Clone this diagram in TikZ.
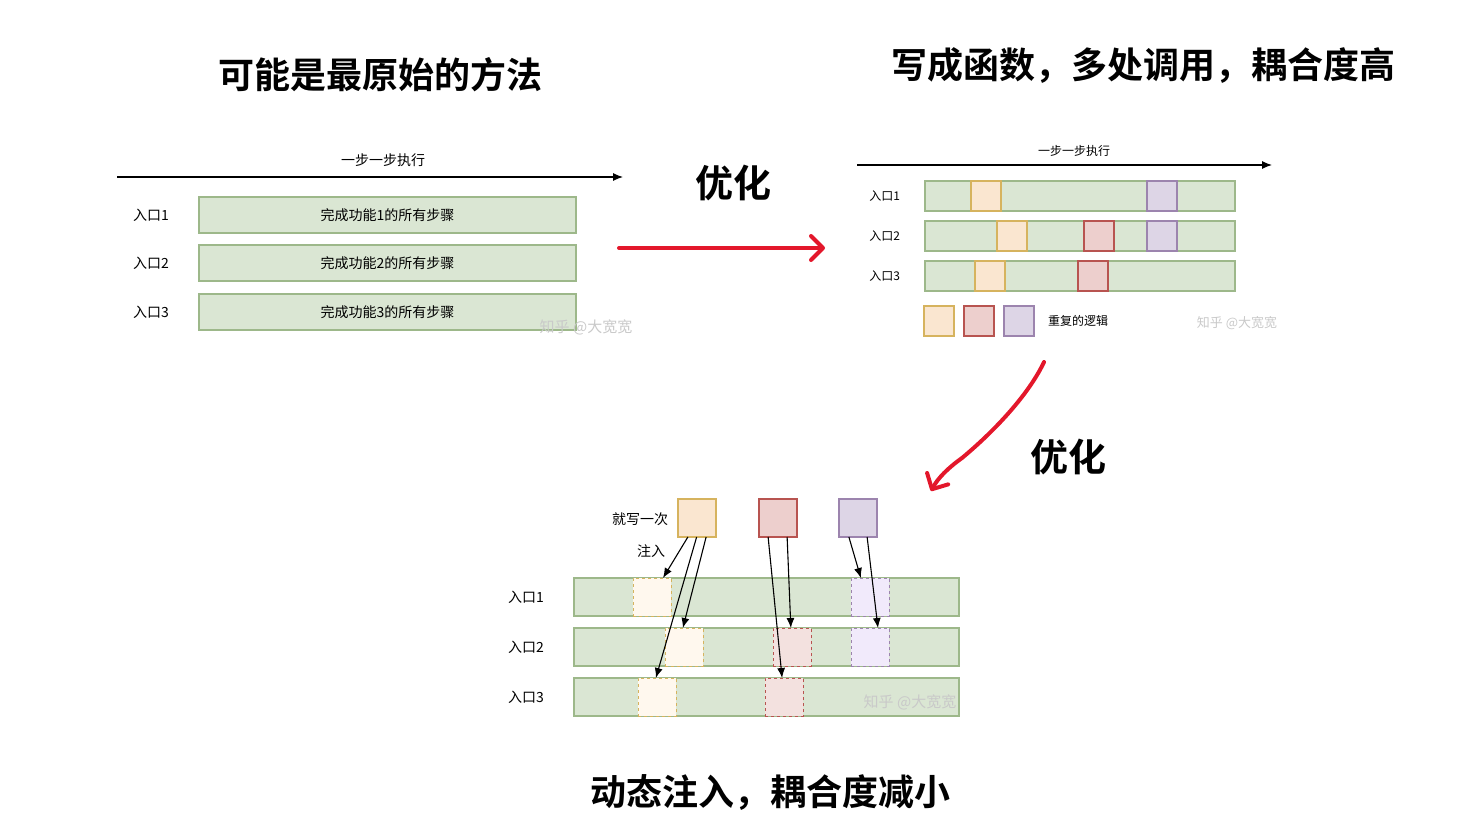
\documentclass[tikz,border=0pt]{standalone}
\usepackage{fontspec}
\setmainfont{Noto Sans CJK SC}[BoldFont={Noto Sans CJK SC Bold}]
\usetikzlibrary{arrows.meta, positioning, calc}
\definecolor{bardraw}{HTML}{9DB88A}
\definecolor{barfill}{HTML}{DAE6D3}
\definecolor{orgdraw}{HTML}{D6B35E}
\definecolor{orgfill}{HTML}{FAE6D0}
\definecolor{orgpale}{HTML}{FFF8EE}
\definecolor{reddraw}{HTML}{B85450}
\definecolor{redfill}{HTML}{EDCFCD}
\definecolor{redpale}{HTML}{F3E1DF}
\definecolor{purdraw}{HTML}{9C84AE}
\definecolor{purfill}{HTML}{DDD5E6}
\definecolor{purpale}{HTML}{F1EAFB}
\definecolor{redline}{HTML}{E3172B}
\definecolor{wmark}{HTML}{C9C9C9}
\newcommand\setsz[1]{\fontsize{#1}{#1}\selectfont}

\begin{document}
\begin{tikzpicture}[x=1pt,y=-1pt,
  every node/.style={inner sep=0pt,outer sep=0pt},
  bar/.style={draw=bardraw,fill=barfill,line width=1.3pt,anchor=north west},
  blk/.style={draw=#1draw,fill=#1fill,line width=1.3pt,anchor=north west,
    minimum width=30pt,minimum height=30pt},
  ghost/.style={draw=#1draw,fill=#1pale,dashed,line width=1pt,anchor=north west,
    minimum width=38pt,minimum height=38pt},
  entry/.style={font=\setsz{14}},
  title/.style={font=\bfseries\setsz{36}},
  hint/.style={font=\bfseries\setsz{38}},
  wmark/.style={text=wmark,font=\setsz{15}},
  flow/.style={-{Latex[length=10pt,width=8pt]},line width=1.1pt},
  tweak/.style={draw=redline,line width=4pt,line cap=round,
    -{Straight Barb[length=12pt,width=24pt,round]}}]
\useasboundingbox (0,0) rectangle (1469,829);

% original way
\node[title] (t1) at (380,75) {可能是最原始的方法};
\coordinate (s1a) at (117,177);
\coordinate (s1b) at (623,177);
\draw[flow] (s1a) -- (s1b);
\node[entry] (s1) at (383,160) {一步一步执行};
\foreach \i/\y in {1/197,2/245,3/294} {
  \node[bar,minimum width=377pt,minimum height=36pt,font=\setsz{14}] (f\i) at (199,\y) {完成功能\i 的所有步骤};
  \node[entry,left=30pt of f\i.west] (e\i) {入口\i};
}
\node[wmark] (w1) at (586,327) {知乎 @大宽宽};

\coordinate (r1a) at (619,248);
\coordinate (r1b) at (825,248);
\draw[tweak] (r1a) -- (r1b);
\node[hint] (o1) at (733,183) {优化};

% shared functions
\node[title] (t2) at (1143,66) {写成函数，多处调用，耦合度高};
\coordinate (s2a) at (857,165);
\coordinate (s2b) at (1272,165);
\draw[flow] (s2a) -- (s2b);
\node[font=\setsz{12}] (s2) at (1074,151) {一步一步执行};
\foreach \i/\y in {1/181,2/221,3/261} {
  \node[bar,minimum width=310pt,minimum height=30pt] (g\i) at (925,\y) {};
  \node[font=\setsz{12},left=25pt of g\i.west] (h\i) {入口\i};
}
\node[blk=org] (g1o) at (971,181) {};
\node[blk=pur] (g1p) at (1147,181) {};
\node[blk=org] (g2o) at (997,221) {};
\node[blk=red] (g2r) at (1084,221) {};
\node[blk=pur] (g2p) at (1147,221) {};
\node[blk=org] (g3o) at (975,261) {};
\node[blk=red] (g3r) at (1078,261) {};
\node[blk=org] (lo) at (924,306) {};
\node[blk=red] (lr) at (964,306) {};
\node[blk=pur] (lp) at (1004,306) {};
\node[font=\setsz{12},right=14pt of lp.east] (lt) {重复的逻辑};
\node[wmark,font=\setsz{13}] (w2) at (1237,323) {知乎 @大宽宽};

\coordinate (r2a) at (1044,362);
\coordinate (r2b) at (931,491);
\draw[tweak] (r2a) .. controls (1030,392) and (998,428) .. (962,458)
  .. controls (948,468) and (938,478) .. (r2b);
\node[hint] (o2) at (1068,457) {优化};

% injection
\node[title] (t3) at (770,792) {动态注入，耦合度减小};
\node[blk=org,minimum width=38pt,minimum height=38pt] (u1) at (678,499) {};
\node[blk=red,minimum width=38pt,minimum height=38pt] (u2) at (759,499) {};
\node[blk=pur,minimum width=38pt,minimum height=38pt] (u3) at (839,499) {};
\node[entry] (once) at (640,519) {就写一次};
\node[entry] (inj) at (651,551) {注入};
\foreach \i/\y in {1/578,2/628,3/678} {
  \node[bar,minimum width=385pt,minimum height=38pt] (k\i) at (574,\y) {};
  \node[entry,left=30pt of k\i.west] (m\i) {入口\i};
}
\node[ghost=org] (k1o) at (633,578) {};
\node[ghost=pur] (k1p) at (851,578) {};
\node[ghost=org] (k2o) at (665,628) {};
\node[ghost=red] (k2r) at (773,628) {};
\node[ghost=pur] (k2p) at (851,628) {};
\node[ghost=org] (k3o) at (638,678) {};
\node[ghost=red] (k3r) at (765,678) {};
\node[wmark] (w3) at (910,702) {知乎 @大宽宽};

\draw[flow] ($(u1.south west)!0.26!(u1.south east)$) -- ($(k1o.north west)!0.79!(k1o.north east)$);
\draw[flow] ($(u1.south west)!0.49!(u1.south east)$) -- ($(k3o.north west)!0.47!(k3o.north east)$);
\draw[flow] ($(u1.south west)!0.74!(u1.south east)$) -- ($(k2o.north west)!0.47!(k2o.north east)$);
\draw[flow] ($(u2.south west)!0.24!(u2.south east)$) -- ($(k3r.north west)!0.45!(k3r.north east)$);
\draw[flow] ($(u2.south west)!0.74!(u2.south east)$) -- ($(k2r.north west)!0.47!(k2r.north east)$);
\draw[flow] ($(u3.south west)!0.26!(u3.south east)$) -- ($(k1p.north west)!0.26!(k1p.north east)$);
\draw[flow] ($(u3.south west)!0.74!(u3.south east)$) -- ($(k2p.north west)!0.71!(k2p.north east)$);
\end{tikzpicture}
\end{document}
